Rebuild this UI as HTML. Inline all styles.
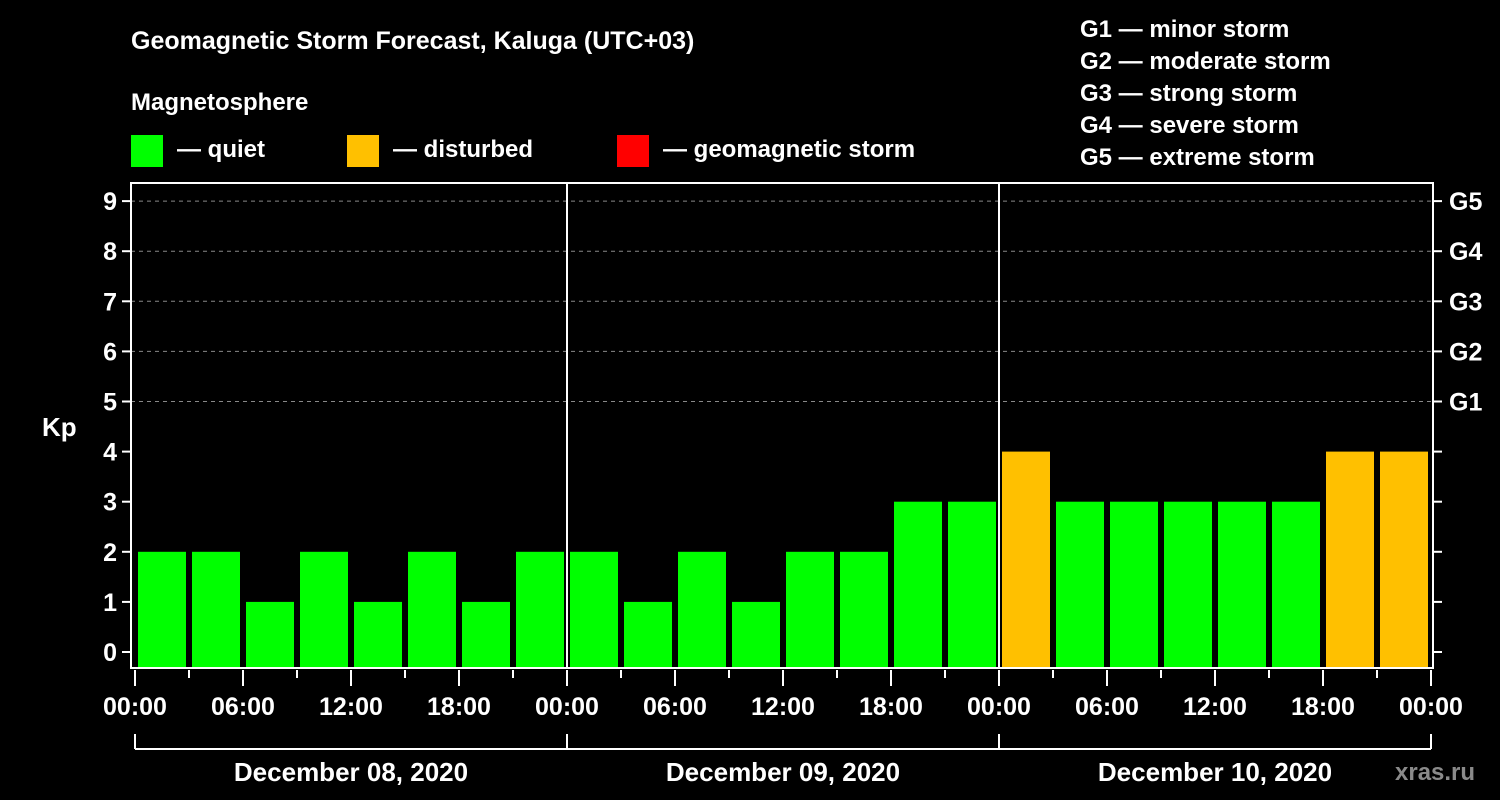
<!DOCTYPE html>
<html><head><meta charset="utf-8"><style>
html,body{margin:0;padding:0;background:#000;width:1500px;height:800px;overflow:hidden}
svg text{font-family:"Liberation Sans",Arial,sans-serif;font-weight:bold;fill:#fff}
</style></head><body>
<svg id="chart" width="1500" height="800" viewBox="0 0 1500 800" xmlns="http://www.w3.org/2000/svg">
<rect width="1500" height="800" fill="#000"/>
<text x="131" y="49" font-size="25">Geomagnetic Storm Forecast, Kaluga (UTC+03)</text>
<text x="131" y="110" font-size="24">Magnetosphere</text>
<g>
<rect x="131" y="135" width="32" height="32" fill="#00ff00"/>
<text x="177" y="157" font-size="24">— quiet</text>
<rect x="347" y="135" width="32" height="32" fill="#ffc000"/>
<text x="393" y="157" font-size="24">— disturbed</text>
<rect x="617" y="135" width="32" height="32" fill="#ff0000"/>
<text x="663" y="157" font-size="24">— geomagnetic storm</text>
</g>
<g font-size="24">
<text x="1080" y="37">G1 — minor storm</text>
<text x="1080" y="69">G2 — moderate storm</text>
<text x="1080" y="101">G3 — strong storm</text>
<text x="1080" y="133">G4 — severe storm</text>
<text x="1080" y="165">G5 — extreme storm</text>
</g>
<text x="42" y="436" font-size="26">Kp</text>
<text x="1395" y="780" font-size="24" fill="#888" style="fill:#8a8a8a">xras.ru</text>
<g id="grid"></g>
<g id="bars"></g>
<g id="axes"></g>
</svg>
<script>
const kpValues = [2,2,1,2,1,2,1,2, 2,1,2,1,2,2,3,3, 4,3,3,3,3,3,4,4];
const kpStatus = ['q','q','q','q','q','q','q','q', 'q','q','q','q','q','q','q','q', 'd','q','q','q','q','q','d','d'];
const yTicks = [0,1,2,3,4,5,6,7,8,9];
const gLabels = ['G1','G2','G3','G4','G5'];
const gLevels = [5,6,7,8,9];
const xTickLabels = ['00:00','06:00','12:00','18:00','00:00','06:00','12:00','18:00','00:00','06:00','12:00','18:00','00:00'];
const dayLabels = ['December 08, 2020','December 09, 2020','December 10, 2020'];

const NS='http://www.w3.org/2000/svg';
const x0=135, hourPx=18, y0=652, kpPx=50.1;
const plotL=131, plotR=1433, plotT=183, plotB=668;
const xs=h=>x0+h*hourPx;
const ys=v=>y0-v*kpPx;
function mk(tag,attrs,parent,txt){const e=document.createElementNS(NS,tag);for(const k in attrs)e.setAttribute(k,attrs[k]);if(txt!==undefined)e.textContent=txt;parent.appendChild(e);return e;}
const grid=document.getElementById('grid'),bars=document.getElementById('bars'),axes=document.getElementById('axes');
gLevels.forEach(v=>{
  const l=mk('line',{x1:plotL,x2:plotR,y1:ys(v),y2:ys(v),stroke:'#888','stroke-dasharray':'4,4','stroke-width':1},grid);
  
  
});
const colors={q:'#00ff00',d:'#ffc000',s:'#ff0000'};
kpValues.forEach((v,i)=>{
  const top=ys(v);
  const r=mk('rect',{x:xs(i*3)+3,y:top,width:48,height:plotB-top,fill:colors[kpStatus[i]]},bars);
  
  
});
// day separators
[1,2].forEach(d=>{
  const l=mk('line',{x1:xs(d*24),x2:xs(d*24),y1:plotT,y2:plotB,stroke:'#fff','stroke-width':2},axes);
  
  
});
const frame=mk('rect',{x:plotL,y:plotT,width:plotR-plotL,height:plotB-plotT,fill:'none',stroke:'#fff','stroke-width':2},axes);


yTicks.forEach(v=>{
  mk('line',{x1:plotL-9,x2:plotL,y1:ys(v),y2:ys(v),stroke:'#fff','stroke-width':2},axes);
  mk('line',{x1:plotR,x2:plotR+9,y1:ys(v),y2:ys(v),stroke:'#fff','stroke-width':2},axes);
  const t=mk('text',{x:plotL-14,y:ys(v)+9,'font-size':25,'text-anchor':'end'},axes,String(v));
  
  
});
gLevels.forEach((v,i)=>{
  const t=mk('text',{x:1449,y:ys(v)+9,'font-size':25},axes,gLabels[i]);
  
  
});
for(let h=0;h<=72;h+=3){
  const major=h%6===0;
  mk('line',{x1:xs(h),x2:xs(h),y1:plotB+2,y2:plotB+(major?18:10),stroke:'#fff','stroke-width':2},axes);
}
xTickLabels.forEach((s,i)=>{
  const t=mk('text',{x:xs(i*6),y:715,'font-size':25,'text-anchor':'middle'},axes,s);
  
  
});
// day bracket
mk('line',{x1:xs(0),x2:xs(72),y1:749,y2:749,stroke:'#fff','stroke-width':2},axes);
[0,24,48,72].forEach(h=>mk('line',{x1:xs(h),x2:xs(h),y1:734,y2:749,stroke:'#fff','stroke-width':2},axes));
dayLabels.forEach((s,i)=>{
  const t=mk('text',{x:xs(i*24+12),y:781,'font-size':26,'text-anchor':'middle'},axes,s);
  
  
});
</script>
</body></html>
